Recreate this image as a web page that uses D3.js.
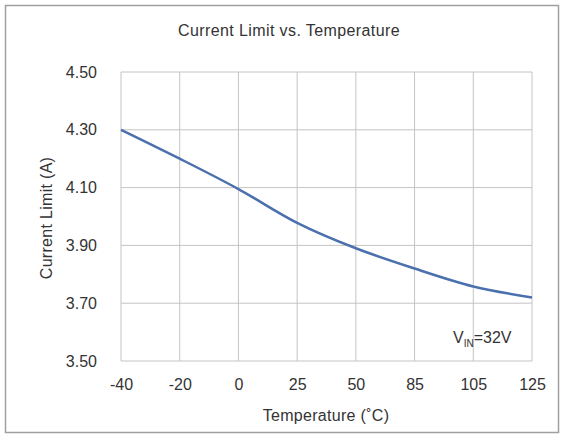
<!DOCTYPE html>
<html>
<head>
<meta charset="utf-8">
<script src="https://cdn.jsdelivr.net/npm/d3@7"></script>
<style>
  body { margin: 0; background: #fff; }
  text { font-family: "Liberation Sans", Arial, sans-serif; fill: #333; }
</style>
</head>
<body>
<div id="chart"></div>
<script>
// temperature categories (equally spaced on the chart)
const temps = ["-40", "-20", "0", "25", "50", "85", "105", "125"];
const currentLimit = [4.30, 4.20, 4.095, 3.978, 3.89, 3.82, 3.758, 3.72];
const yTicks = [3.50, 3.70, 3.90, 4.10, 4.30, 4.50];

const width = 564, height = 435;
const plotL = 121, plotR = 532, plotT = 72, plotB = 361;

const svg = d3.select('#chart').append('svg')
  .attr('width', width)
  .attr('height', height);

// outer frame
svg.append('rect')
  .attr('x', 5.5).attr('y', 5.5)
  .attr('width', 553).attr('height', 427)
  .attr('fill', '#fff')
  .attr('stroke', '#a0a0a0')
  .attr('stroke-width', 1.5);

let x = d3.scalePoint()
  .domain(temps)
  .range([plotL, plotR]);

let y = d3.scaleLinear()
  .domain([3.5, 4.5])
  .range([plotB, plotT]);

// grid
svg.append('g')
  .selectAll('line')
  .data(temps)
  .join('line')
  .attr('x1', d => x(d)).attr('x2', d => x(d))
  .attr('y1', plotT).attr('y2', plotB)
  .attr('stroke', '#c4c4c4').attr('stroke-width', 1);

svg.append('g')
  .selectAll('line')
  .data(yTicks)
  .join('line')
  .attr('x1', plotL).attr('x2', plotR)
  .attr('y1', d => y(d)).attr('y2', d => y(d))
  .attr('stroke', '#c4c4c4').attr('stroke-width', 1);

// axes (labels only)
let xAxis = svg.append('g')
  .attr('transform', `translate(0, ${plotB})`)
  .call(d3.axisBottom(x).tickSize(0).tickPadding(18));
xAxis.select('.domain').remove();
xAxis.selectAll('text').style('font-size', '16px').attr('fill', '#333');

let yAxis = svg.append('g')
  .attr('transform', `translate(${plotL}, 0)`)
  .call(d3.axisLeft(y).tickValues(yTicks).tickFormat(d3.format('.2f')).tickSize(0).tickPadding(24));
yAxis.select('.domain').remove();
yAxis.selectAll('text').style('font-size', '16px').attr('fill', '#333');

// the curve
let line = d3.line()
  .x((d, i) => x(temps[i]))
  .y(d => y(d))
  .curve(d3.curveMonotoneX);

svg.append('path')
  .datum(currentLimit)
  .attr('d', line)
  .attr('fill', 'none')
  .attr('stroke', '#4a70ae')
  .attr('stroke-width', 2.5);

// titles
svg.append('text')
  .attr('x', 289).attr('y', 36)
  .attr('text-anchor', 'middle')
  .style('font-size', '16px')
  .style('letter-spacing', '0.4px')
  .text('Current Limit vs. Temperature');

svg.append('text')
  .attr('x', 326).attr('y', 421)
  .attr('text-anchor', 'middle')
  .style('font-size', '16px')
  .style('letter-spacing', '0.3px')
  .text('Temperature (˚C)');

svg.append('text')
  .attr('transform', `translate(52, 218) rotate(-90)`)
  .attr('text-anchor', 'middle')
  .style('font-size', '16px')
  .style('letter-spacing', '0.3px')
  .text('Current Limit (A)');

// annotation
let note = svg.append('text')
  .attr('x', 453).attr('y', 343)
  .style('font-size', '16px');
note.append('tspan').text('V');
note.append('tspan').attr('dy', 4).style('font-size', '10px').text('IN');
note.append('tspan').attr('dy', -4).text('=32V');
</script>
</body>
</html>
